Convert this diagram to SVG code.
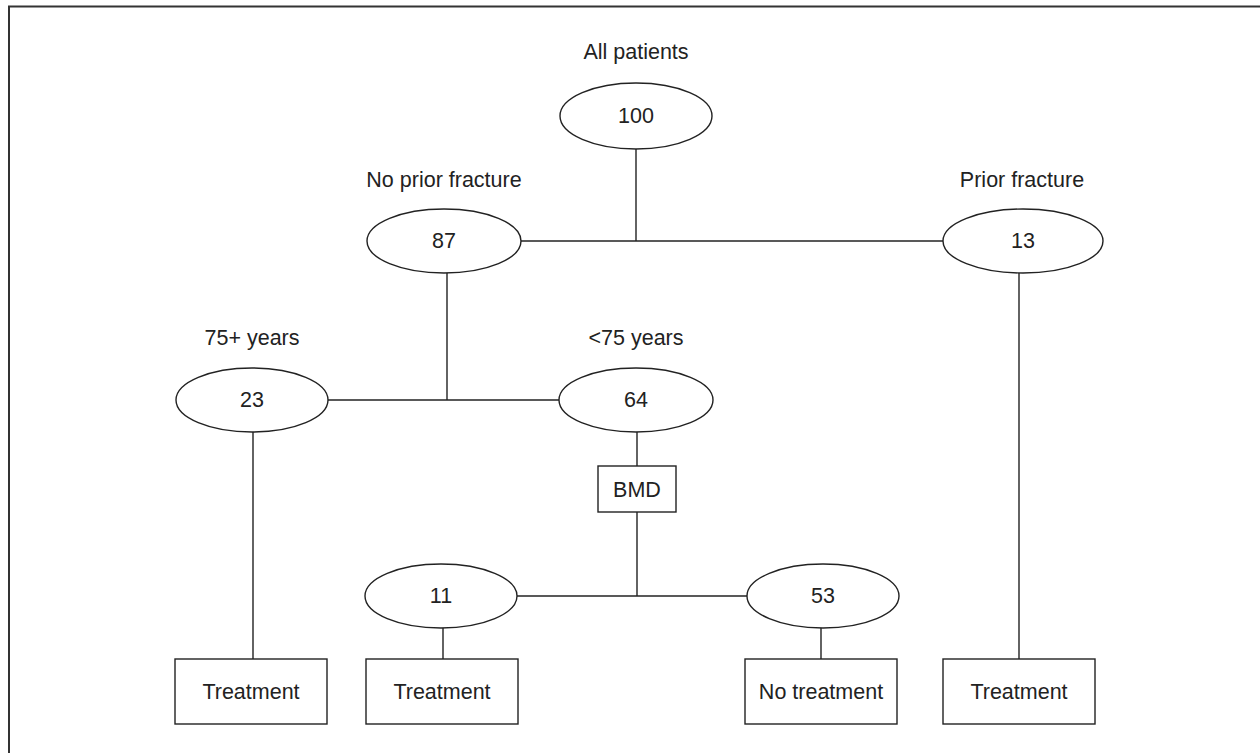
<svg xmlns="http://www.w3.org/2000/svg" width="1260" height="753" viewBox="0 0 1260 753">
<style>
  .n { fill: #fff; stroke: #222; stroke-width: 1.4; }
  .c { fill: none; stroke: #222; stroke-width: 1.4; }
  text { font-family: "Liberation Sans", Arial, sans-serif; font-size: 21.5px; fill: #222; text-anchor: middle; }
</style>
<rect x="0" y="0" width="1260" height="753" fill="#fff"/>
<path d="M9,753 V6.5 H1260" fill="none" stroke="#333" stroke-width="2"/>
<g id="connectors">
  <path class="c" d="M636,149 V241"/>
  <path class="c" d="M521,241 H943"/>
  <path class="c" d="M447,273 V400"/>
  <path class="c" d="M328,400 H559"/>
  <path class="c" d="M253,432 V659"/>
  <path class="c" d="M637,432 V466"/>
  <path class="c" d="M637,512 V596"/>
  <path class="c" d="M517,596 H747"/>
  <path class="c" d="M443,628 V659"/>
  <path class="c" d="M821,628 V659"/>
  <path class="c" d="M1019,273 V659"/>
</g>
<g id="n100">
  <text x="636" y="59">All patients</text>
  <ellipse class="n" cx="636" cy="116" rx="76" ry="33"/>
  <text x="636" y="123">100</text>
</g>
<g id="n87">
  <text x="444" y="187">No prior fracture</text>
  <ellipse class="n" cx="444" cy="241" rx="77" ry="32"/>
  <text x="444" y="248">87</text>
</g>
<g id="n13">
  <text x="1022" y="187">Prior fracture</text>
  <ellipse class="n" cx="1023" cy="241" rx="80" ry="32"/>
  <text x="1023" y="248">13</text>
</g>
<g id="n23">
  <text x="252" y="345">75+ years</text>
  <ellipse class="n" cx="252" cy="400" rx="76" ry="32"/>
  <text x="252" y="407">23</text>
</g>
<g id="n64">
  <text x="636" y="345">&lt;75 years</text>
  <ellipse class="n" cx="636" cy="400" rx="77" ry="32"/>
  <text x="636" y="407">64</text>
</g>
<g id="bmd">
  <rect class="n" x="598" y="466" width="78" height="46"/>
  <text x="637" y="497">BMD</text>
</g>
<g id="n11">
  <ellipse class="n" cx="441" cy="596" rx="76" ry="32"/>
  <text x="441" y="603">11</text>
</g>
<g id="n53">
  <ellipse class="n" cx="823" cy="596" rx="76" ry="32"/>
  <text x="823" y="603">53</text>
</g>
<g id="t1">
  <rect class="n" x="175" y="659" width="152" height="65"/>
  <text x="251" y="699">Treatment</text>
</g>
<g id="t2">
  <rect class="n" x="366" y="659" width="152" height="65"/>
  <text x="442" y="699">Treatment</text>
</g>
<g id="t3">
  <rect class="n" x="745" y="659" width="152" height="65"/>
  <text x="821" y="699">No treatment</text>
</g>
<g id="t4">
  <rect class="n" x="943" y="659" width="152" height="65"/>
  <text x="1019" y="699">Treatment</text>
</g>
</svg>
